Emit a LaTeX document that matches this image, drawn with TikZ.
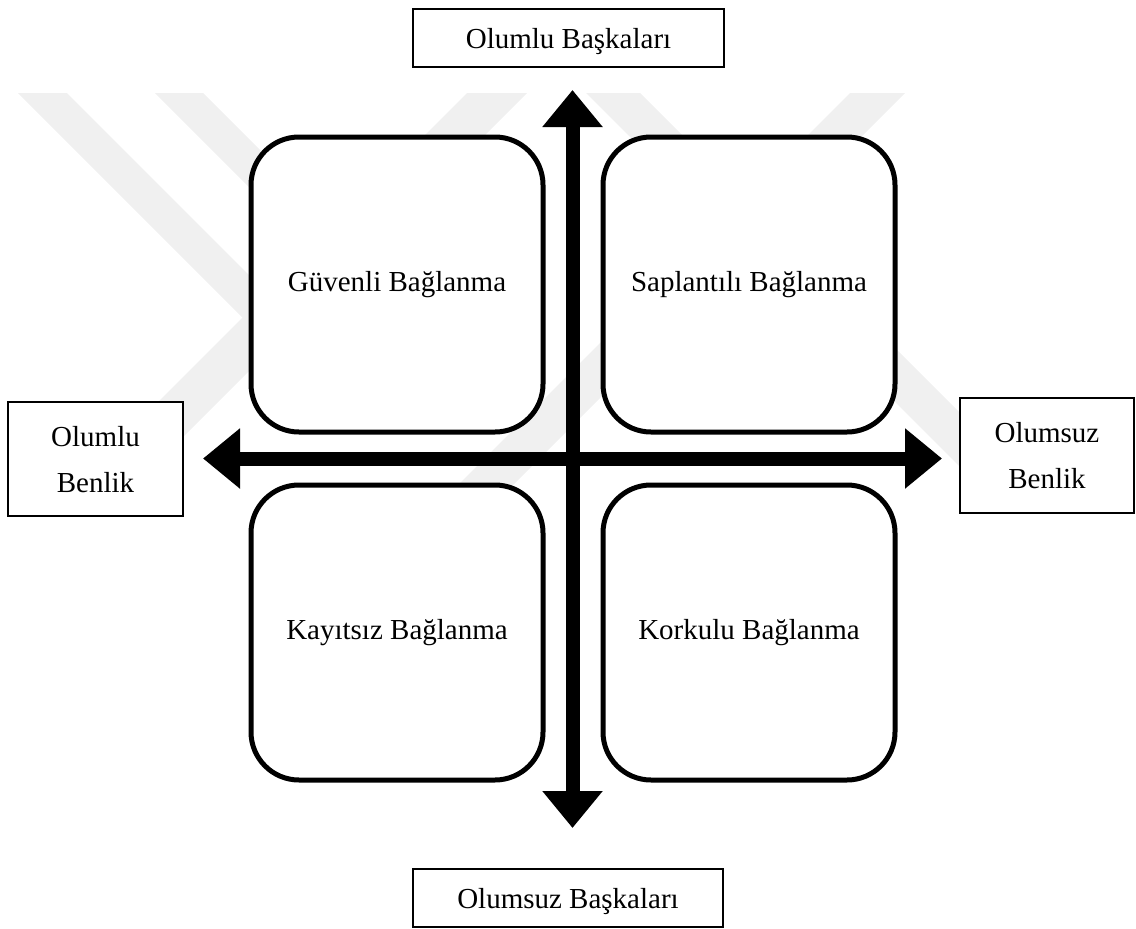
\documentclass[tikz,border=0pt]{standalone}
\usepackage{fontspec}
\setmainfont{Liberation Serif}
\usetikzlibrary{arrows.meta}

\begin{document}
\begin{tikzpicture}[x=1pt,y=-1pt,
    labelbox/.style={draw, fill=white, line width=1.5pt, inner sep=0pt, align=center, text depth=0pt,
                     font=\fontsize{29}{46}\selectfont},
    quadrant/.style={draw, fill=white, line width=5pt, rounded corners=48pt, minimum width=292pt,
                     minimum height=295pt, font=\fontsize{29}{35}\selectfont},
    axis/.style={line width=14pt, {Triangle[length=37pt,width=58pt]}-{Triangle[length=37pt,width=58pt]}},
    mark band/.style={fill=black!6}]

  \useasboundingbox (0,0) rectangle (1136,929);

  % faint watermark behind the figure
  \fill[mark band] (18,93) -- (67,93) -- (297,323) -- (272.5,347.5) -- cycle;
  \fill[mark band] (467,93) -- (527,93) -- (120,500) -- (60,500) -- cycle;
  \fill[mark band] (155,93) -- (203,93) -- (380,270) -- (332,270) -- cycle;
  \fill[mark band] (586,93) -- (640,93) -- (1027,480) -- (973,480) -- cycle;
  \fill[mark band] (850,93) -- (905,93) -- (478,520) -- (423,520) -- cycle;

  % four attachment styles
  \node[quadrant] (guvenli)   at (397,284.5) {Güvenli Bağlanma};
  \node[quadrant] (saplantili) at (749,284.5) {Saplantılı Bağlanma};
  \node[quadrant] (kayitsiz)  at (397,632.5) {Kayıtsız Bağlanma};
  \node[quadrant] (korkulu)   at (749,632.5) {Korkulu Bağlanma};

  % axes
  \coordinate (up)    at (572.5,90);
  \coordinate (down)  at (572.5,828);
  \coordinate (left)  at (203,458.5);
  \coordinate (right) at (942,458.5);
  \draw[axis] (down) -- (up);
  \draw[axis] (left) -- (right);

  % axis labels
  \node[labelbox, minimum width=311pt, minimum height=58pt] (olumlubaska)   at (568.5,38)  {Olumlu Başkaları};
  \node[labelbox, minimum width=310pt, minimum height=58pt] (olumsuzbaska)  at (568,898)   {Olumsuz Başkaları};
  \node[labelbox, minimum width=175pt, minimum height=114pt] (olumluben)    at (95.5,459)  {Olumlu\\Benlik};
  \node[labelbox, minimum width=174pt, minimum height=115pt] (olumsuzben)   at (1047,455.5) {Olumsuz\\Benlik};

\end{tikzpicture}
\end{document}
